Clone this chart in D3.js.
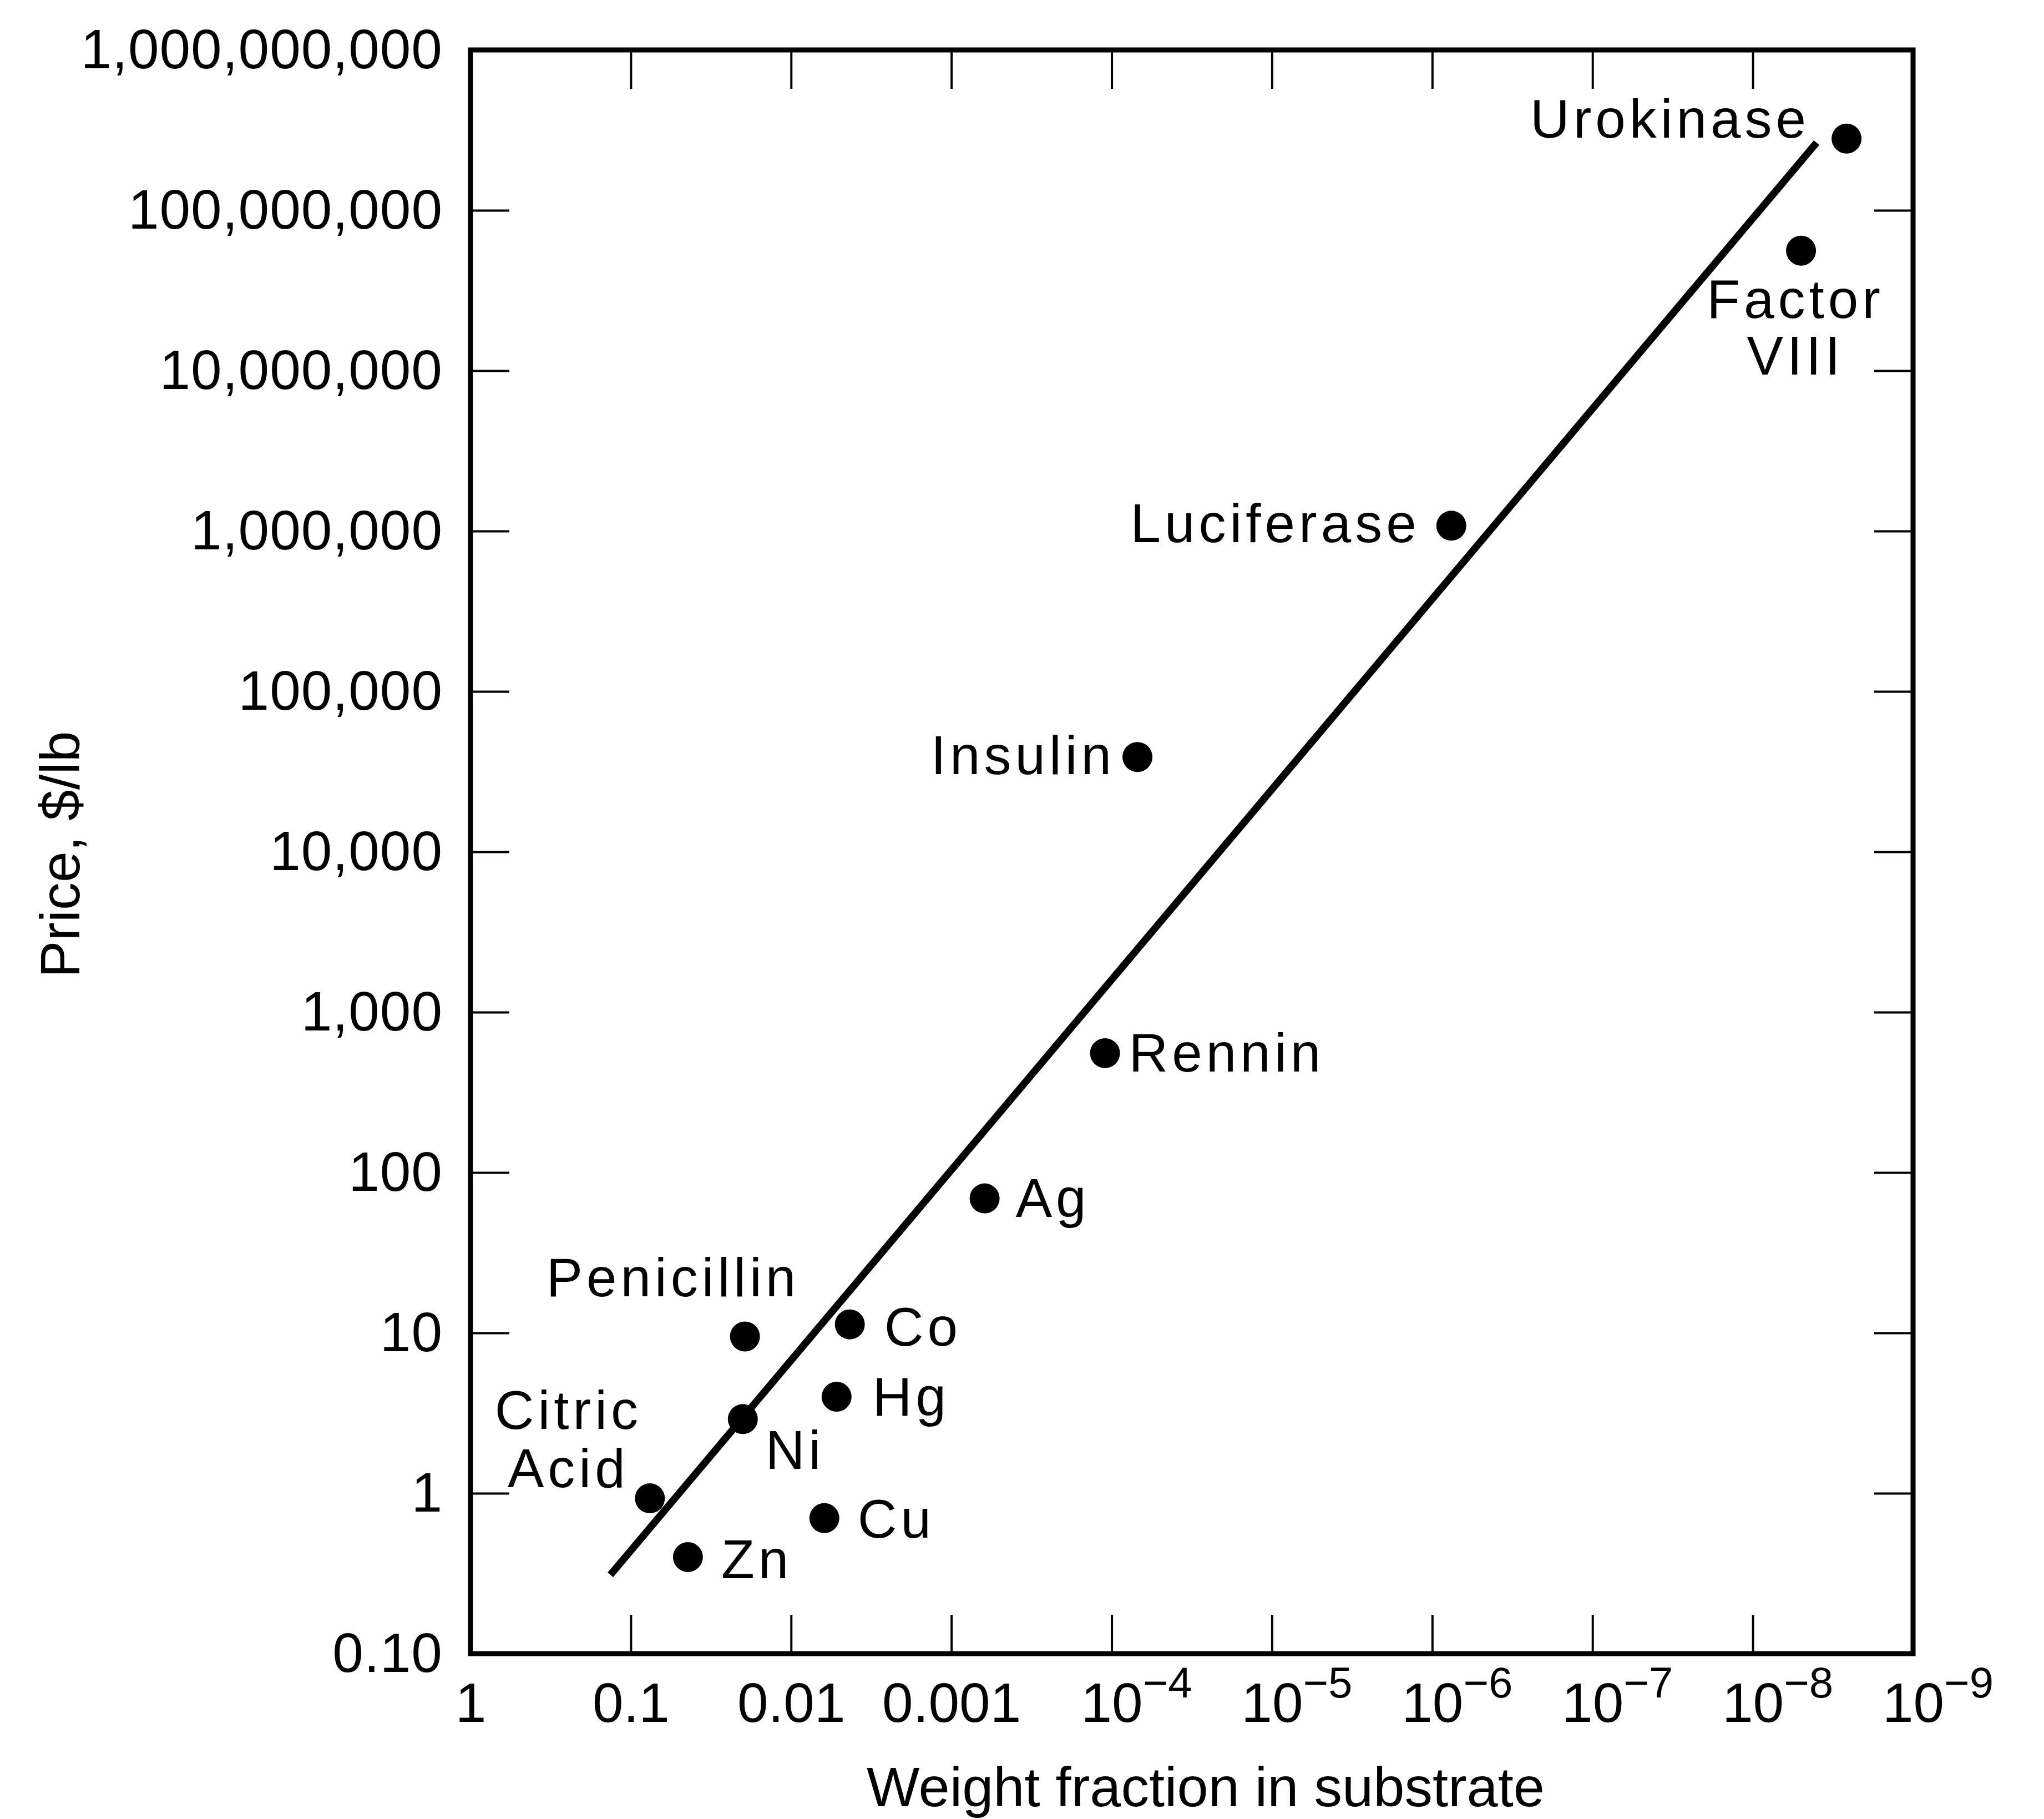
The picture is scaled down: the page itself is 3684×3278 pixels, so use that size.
<!DOCTYPE html>
<html>
<head>
<meta charset="utf-8">
<script src="https://cdn.jsdelivr.net/npm/d3@7"></script>
<style>
body { margin: 0; background: #fff; }
text { font-family: "Liberation Sans", Arial, Helvetica, sans-serif; fill: #000; }
</style>
</head>
<body>
<div id="chart"></div>
<script>
// values
var names = ["Urokinase", "Factor VIII", "Luciferase", "Insulin", "Rennin", "Ag", "Co",
    "Penicillin", "Hg", "Ni", "Citric Acid", "Cu", "Zn"];
var weightFraction = [2.6e-9, 5.0e-9, 7.6e-7, 6.9e-5, 1.1e-4, 6.2e-4, 4.3e-3,
    0.0194, 5.2e-3, 0.020, 0.076, 6.2e-3, 0.044];
var price = [2.8e8, 5.6e7, 1.08e6, 3.9e4, 555, 69, 11.3,
    9.5, 4.0, 2.9, 0.93, 0.70, 0.40];

// end points of the fitted line
var fitX = [0.134, 4.0e-9];
var fitY = [0.31, 2.64e8];

var xTicks = [1, 0.1, 0.01, 0.001, 1e-4, 1e-5, 1e-6, 1e-7, 1e-8, 1e-9];
var xTickLabels = ["1", "0.1", "0.01", "0.001", "10^\u22124", "10^\u22125", "10^\u22126",
    "10^\u22127", "10^\u22128", "10^\u22129"];
var yTicks = [0.1, 1, 10, 100, 1e3, 1e4, 1e5, 1e6, 1e7, 1e8, 1e9];
var yTickLabels = ["0.10", "1", "10", "100", "1,000", "10,000", "100,000", "1,000,000",
    "10,000,000", "100,000,000", "1,000,000,000"];

// where each name sits relative to its dot
var labelLayout = [
    {dx: -66, dy: -2, anchor: "end"},
    {dx: -10, dy: 121, anchor: "middle", lineGap: 102},
    {dx: -56, dy: 30, anchor: "end"},
    {dx: -40, dy: 31, anchor: "end"},
    {dx: 43, dy: 33, anchor: "start"},
    {dx: 56, dy: 33, anchor: "start"},
    {dx: 62, dy: 38, anchor: "start"},
    {dx: -358, dy: -72, anchor: "start"},
    {dx: 65, dy: 34, anchor: "start"},
    {dx: 41, dy: 90, anchor: "start"},
    {dx: -147, dy: -125, anchor: "middle", lineGap: 105},
    {dx: 60, dy: 35, anchor: "start"},
    {dx: 60, dy: 38, anchor: "start"}
];

var W = 3684, H = 3278;
var margin = {top: 90, right: 236, bottom: 298, left: 848},
    width = W - margin.left - margin.right,
    height = H - margin.top - margin.bottom;

var svg = d3.select("#chart").append("svg")
    .attr("width", W)
    .attr("height", H);
svg.append("rect").attr("width", W).attr("height", H).attr("fill", "#fff");

var g = svg.append("g")
    .attr("transform", "translate(" + margin.left + "," + margin.top + ")");

var x = d3.scaleLog()
    .domain([1, 1e-9])
    .range([0, width]);

var y = d3.scaleLog()
    .domain([0.1, 1e9])
    .range([height, 0]);

// ticks point inward on all four sides
var tickLen = 70;

var yAxisL = g.append("g")
    .call(d3.axisLeft(y)
        .tickValues(yTicks)
        .tickFormat(function(d, i) { return yTickLabels[i]; })
        .tickSizeInner(-tickLen).tickSizeOuter(0).tickPadding(50));

var yAxisR = g.append("g")
    .attr("transform", "translate(" + width + ",0)")
    .call(d3.axisRight(y).tickValues(yTicks).tickFormat("")
        .tickSizeInner(-tickLen).tickSizeOuter(0));

var xAxisB = g.append("g")
    .attr("transform", "translate(0," + height + ")")
    .call(d3.axisBottom(x).tickValues(xTicks).tickFormat("")
        .tickSizeInner(-tickLen).tickSizeOuter(0).tickPadding(52));

var xAxisT = g.append("g")
    .call(d3.axisTop(x).tickValues(xTicks).tickFormat("")
        .tickSizeInner(-tickLen).tickSizeOuter(0));

[yAxisL, yAxisR, xAxisB, xAxisT].forEach(function(a) {
    a.attr("font-size", 100).attr("font-family", null);
    a.select(".domain").remove();
    a.selectAll(".tick line").attr("stroke", "#000").attr("stroke-width", 4);
});
yAxisL.selectAll(".tick text").attr("letter-spacing", 1);

// bottom labels, powers of ten get a raised exponent
xAxisB.selectAll(".tick text").each(function(d, i) {
    var parts = xTickLabels[i].split("^");
    var t = d3.select(this).text(parts[0]);
    if (parts.length > 1) {
        var w = this.getComputedTextLength();
        t.attr("text-anchor", "start").attr("x", -w / 2);
        t.append("tspan")
            .attr("dy", -44)
            .style("font-size", "78px")
            .text(parts[1]);
    }
});

// frame
g.append("rect")
    .attr("width", width)
    .attr("height", height)
    .attr("fill", "none")
    .attr("stroke", "#000")
    .attr("stroke-width", 9);

// fitted line
var line = d3.line()
    .x(function(d) { return x(d[0]); })
    .y(function(d) { return y(d[1]); });

g.append("path")
    .datum(d3.zip(fitX, fitY))
    .attr("d", line)
    .attr("fill", "none")
    .attr("stroke", "#000")
    .attr("stroke-width", 13);

// points
g.selectAll("circle.pt")
    .data(names)
    .enter().append("circle")
    .attr("class", "pt")
    .attr("cx", function(d, i) { return x(weightFraction[i]); })
    .attr("cy", function(d, i) { return y(price[i]); })
    .attr("r", 27)
    .attr("fill", "#000");

// names
names.forEach(function(name, i) {
    var lay = labelLayout[i];
    var t = g.append("text")
        .attr("x", x(weightFraction[i]) + lay.dx)
        .attr("y", y(price[i]) + lay.dy)
        .attr("text-anchor", lay.anchor)
        .attr("font-size", 98)
        .attr("letter-spacing", 7);
    if (lay.lineGap) {
        name.split(" ").forEach(function(word, k) {
            t.append("tspan")
                .attr("x", x(weightFraction[i]) + lay.dx)
                .attr("dy", k == 0 ? 0 : lay.lineGap)
                .text(word);
        });
    } else {
        t.text(name);
    }
});

// axis titles
svg.append("text")
    .attr("x", 2173)
    .attr("y", 3255)
    .attr("text-anchor", "middle")
    .attr("font-size", 101)
    .text("Weight fraction in substrate");

svg.append("text")
    .attr("transform", "translate(143,1540) rotate(-90)")
    .attr("text-anchor", "middle")
    .attr("font-size", 100)
    .text("Price, $/lb");
</script>
</body>
</html>
